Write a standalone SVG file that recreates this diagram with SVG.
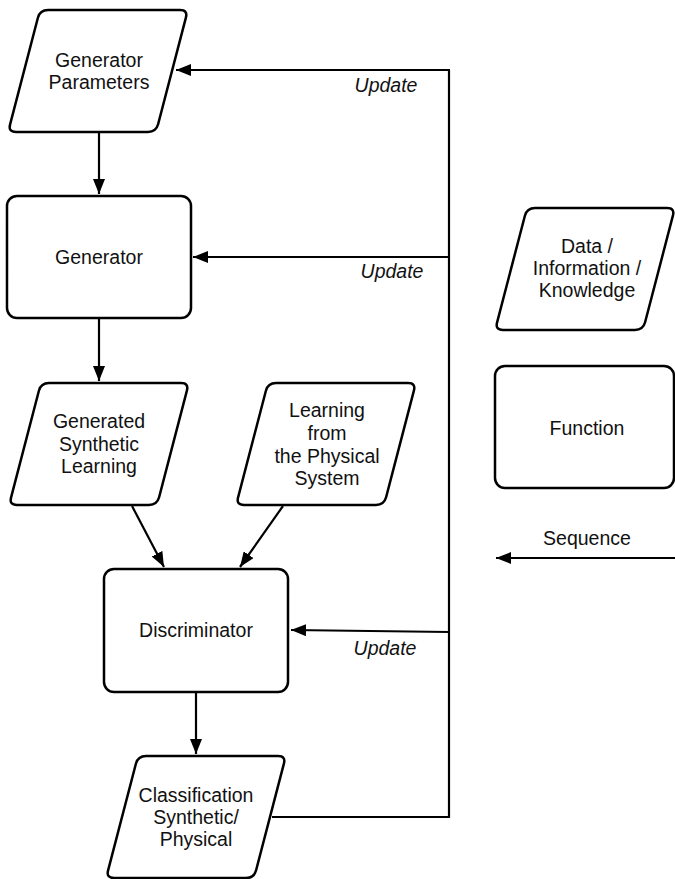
<svg xmlns="http://www.w3.org/2000/svg" width="675" height="879" viewBox="0 0 675 879">
<style>
.shape{fill:#fff;stroke:#000;stroke-width:2.5;stroke-linejoin:round}
.line{fill:none;stroke:#000;stroke-width:2.2}
.t{font-family:"Liberation Sans",Arial,Helvetica,sans-serif;font-size:19.5px;fill:#111;text-anchor:middle}
.u{font-family:"Liberation Sans",Arial,Helvetica,sans-serif;font-size:19.5px;font-style:italic;fill:#111;text-anchor:middle}
</style>
<defs>
<path id="para" d="M40,0 L172,0 Q180,0 177.9,7.7 L150.1,114.3 Q148,122 140,122 L8,122 Q0,122 2.1,114.3 L29.9,7.7 Q32,0 40,0 Z"/>
<marker id="ah" viewBox="0 0 15 12" refX="15" refY="6" markerWidth="15" markerHeight="12" markerUnits="userSpaceOnUse" orient="auto">
<path d="M0,0 L15,6 L0,12 Z" fill="#000"/>
</marker>
</defs>
<rect width="675" height="879" fill="#fff"/>
<g id="connectors">
<line class="line" x1="99" y1="133" x2="99" y2="194" marker-end="url(#ah)"/>
<line class="line" x1="99" y1="319" x2="99" y2="381" marker-end="url(#ah)"/>
<line class="line" x1="132" y1="506" x2="164" y2="567" marker-end="url(#ah)"/>
<line class="line" x1="283" y1="506" x2="240" y2="567" marker-end="url(#ah)"/>
<line class="line" x1="196" y1="693" x2="196" y2="754" marker-end="url(#ah)"/>
<polyline class="line" points="272,817 449,817 449,70"/>
<line class="line" x1="450" y1="70" x2="176" y2="70" marker-end="url(#ah)"/>
<line class="line" x1="449" y1="257" x2="193" y2="257" marker-end="url(#ah)"/>
<line class="line" x1="449" y1="632" x2="291" y2="630" marker-end="url(#ah)"/>
<line class="line" x1="675" y1="558" x2="496" y2="558" marker-end="url(#ah)"/>
<text class="u" x="386" y="92">Update</text>
<text class="u" x="392" y="278">Update</text>
<text class="u" x="385" y="655">Update</text>
<text class="t" x="587" y="545">Sequence</text>
</g>
<g id="generator-parameters">
<use href="#para" class="shape" transform="translate(8,10)"/>
<text class="t" x="99" y="67">Generator</text>
<text class="t" x="99" y="89">Parameters</text>
</g>
<g id="generator">
<rect class="shape" x="7" y="196" width="184" height="122" rx="10"/>
<text class="t" x="99" y="264">Generator</text>
</g>
<g id="generated-synthetic-learning">
<use href="#para" class="shape" transform="translate(9,383)"/>
<text class="t" x="99" y="428">Generated</text>
<text class="t" x="99" y="451">Synthetic</text>
<text class="t" x="99" y="473">Learning</text>
</g>
<g id="learning-physical">
<use href="#para" class="shape" transform="translate(236,383)"/>
<text class="t" x="327" y="417">Learning</text>
<text class="t" x="327" y="440">from</text>
<text class="t" x="327" y="463">the Physical</text>
<text class="t" x="327" y="485">System</text>
</g>
<g id="discriminator">
<rect class="shape" x="104" y="569" width="184" height="123" rx="10"/>
<text class="t" x="196" y="637">Discriminator</text>
</g>
<g id="classification">
<use href="#para" class="shape" transform="translate(106,756)"/>
<text class="t" x="196" y="802">Classification</text>
<text class="t" x="196" y="824">Synthetic/</text>
<text class="t" x="196" y="846">Physical</text>
</g>
<g id="legend-data">
<use href="#para" class="shape" transform="translate(495,208)"/>
<text class="t" x="587" y="253">Data /</text>
<text class="t" x="587" y="275">Information /</text>
<text class="t" x="587" y="297">Knowledge</text>
</g>
<g id="legend-function">
<rect class="shape" x="495" y="366" width="179" height="122" rx="10"/>
<text class="t" x="587" y="435">Function</text>
</g>
</svg>
